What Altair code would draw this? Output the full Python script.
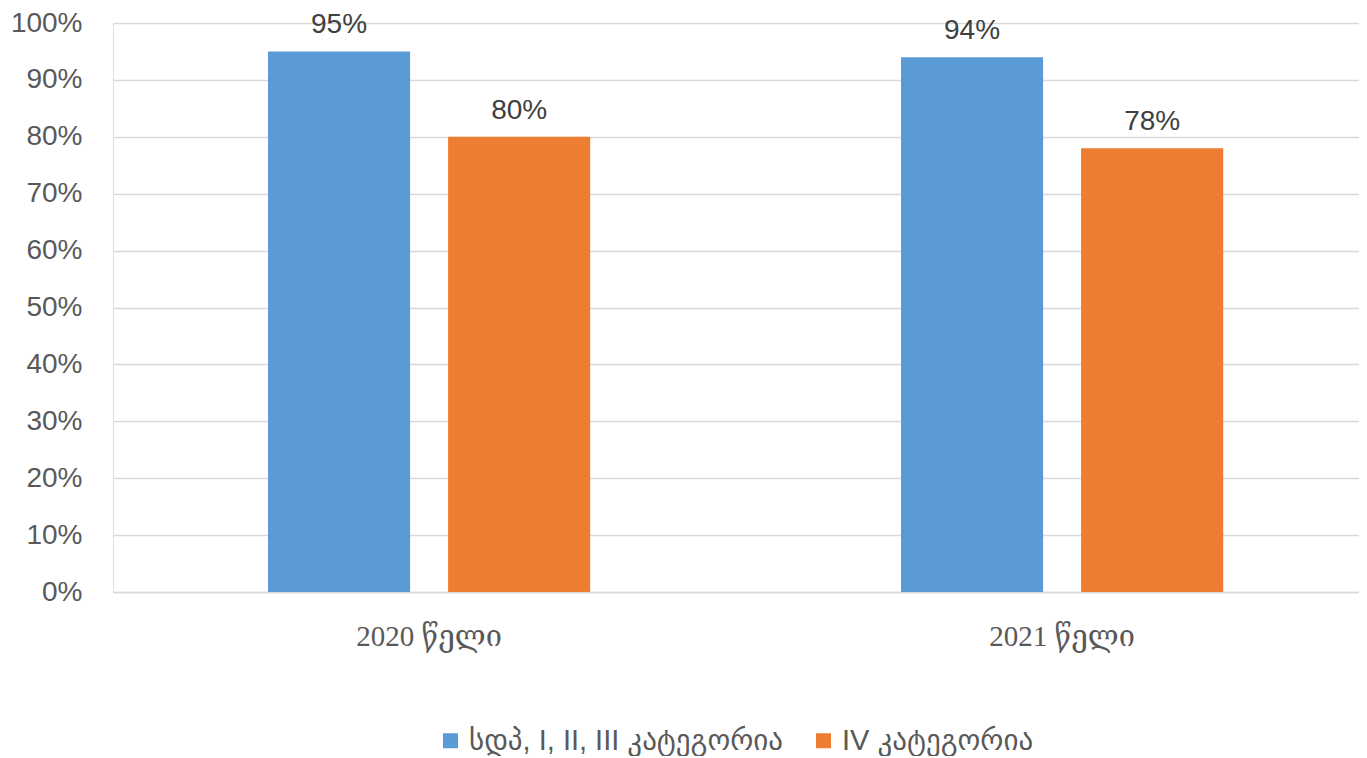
import altair as alt
import pandas as pd

years = ["2020 წელი", "2021 წელი"]
series = ["სდპ, I, II, III კატეგორია", "IV კატეგორია"]
values_a = [0.95, 0.94]
values_b = [0.80, 0.78]
colors = ["#5B9BD5", "#ED7D31"]

rows = []
for i, y in enumerate(years):
    rows.append({"year": y, "series": series[0], "value": values_a[i]})
    rows.append({"year": y, "series": series[1], "value": values_b[i]})
df = pd.DataFrame(rows)

x = alt.X("year:N", sort=years, title=None,
          scale=alt.Scale(paddingInner=0.491, paddingOuter=0.2297, align=0.533),
          axis=alt.Axis(labelAngle=0, labelFont="Liberation Serif, DejaVu Serif",
                        labelFontSize=29, labelColor="#595959", labelPadding=30,
                        ticks=False, domainColor="#d9d9d9", domainWidth=1.3))
xo = alt.XOffset("series:N", sort=series,
                 scale=alt.Scale(paddingInner=0.211, paddingOuter=0))
y = alt.Y("value:Q", title=None,
          scale=alt.Scale(domain=[0, 1], nice=False),
          axis=alt.Axis(format=".0%", values=[i / 10 for i in range(11)],
                        labelFont="Liberation Sans", labelFontSize=28,
                        labelColor="#595959", labelPadding=31, ticks=False,
                        domain=False, gridColor="#d9d9d9", gridWidth=1.3))
color = alt.Color("series:N", sort=series, title=None,
                  scale=alt.Scale(domain=series, range=colors),
                  legend=alt.Legend(orient="none", legendX=323, legendY=703,
                                    direction="horizontal", padding=0,
                                    symbolType="square", symbolSize=225,
                                    symbolStrokeWidth=0,
                                    labelFont="Liberation Sans, DejaVu Sans",
                                    labelFontSize=29, labelColor="#595959",
                                    columnPadding=25, labelLimit=600))

base = alt.Chart(df)
bars = base.mark_bar().encode(x=x, xOffset=xo, y=y, color=color)
texts = base.mark_text(baseline="alphabetic", dy=-18, font="Liberation Sans",
                       fontSize=28, color="#404040").encode(
    x=alt.X("year:N", sort=years), xOffset=alt.XOffset("series:N", sort=series),
    y="value:Q", text=alt.Text("value:Q", format=".0%"))

chart = alt.layer(bars, texts).properties(
    width=1246, height=569,
    padding={"left": 2, "top": 1, "right": 0, "bottom": 0},
).configure_view(stroke=None).configure(background="white")

chart.save("out.html", embed_options={"renderer": "svg", "actions": False})
